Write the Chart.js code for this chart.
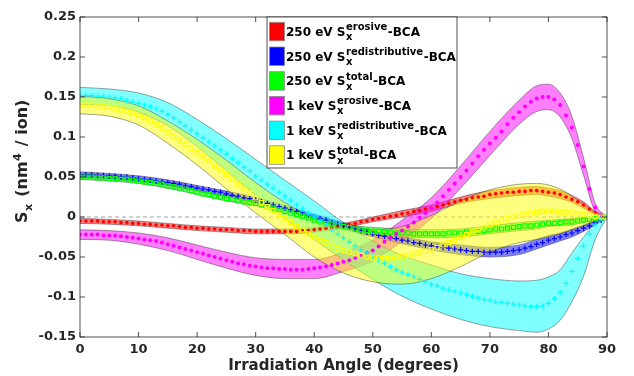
<!DOCTYPE html>
<html>
<head>
<meta charset="utf-8">
<script src="https://cdn.jsdelivr.net/npm/chart.js@4/dist/chart.umd.min.js"></script>
<style>
  html, body { margin: 0; padding: 0; background: #fff; }
</style>
</head>
<body>
<canvas id="sxChart" width="634" height="376"></canvas>
<script>
// irradiation angle (degrees), one marker per degree
const angles = [
  0,1,2,3,4,5,6,7,8,9,10,11,12,13,14,15,16,17,18,19,20,
  21,22,23,24,25,26,27,28,29,30,31,32,33,34,35,36,37,38,39,40,
  41,42,43,44,45,46,47,48,49,50,51,52,53,54,55,56,57,58,59,60,
  61,62,63,64,65,66,67,68,69,70,71,72,73,74,75,76,77,78,79,80,
  81,82,83,84,85,86,87,88,89,90
];

// 250 eV
const red250Erosive = [
  -0.005,-0.005,-0.005,-0.005,-0.006,-0.006,-0.006,-0.007,-0.007,-0.008,-0.008,
  -0.009,-0.009,-0.010,-0.010,-0.011,-0.011,-0.012,-0.013,-0.013,-0.014,
  -0.014,-0.015,-0.015,-0.016,-0.016,-0.016,-0.017,-0.017,-0.017,-0.018,
  -0.018,-0.018,-0.018,-0.018,-0.018,-0.018,-0.018,-0.017,-0.017,-0.016,
  -0.015,-0.014,-0.013,-0.012,-0.011,-0.009,-0.008,-0.006,-0.005,-0.003,
  -0.002,-0.001,0.001,0.002,0.004,0.005,0.007,0.008,0.010,0.011,
  0.013,0.015,0.017,0.019,0.021,0.022,0.024,0.025,0.026,0.028,
  0.029,0.030,0.031,0.031,0.032,0.032,0.033,0.033,0.032,0.031,
  0.030,0.028,0.025,0.022,0.019,0.015,0.010,0.005,0.002,0.000
];
const blue250Redis = [
  0.053,0.053,0.053,0.052,0.052,0.051,0.051,0.050,0.050,0.049,0.048,
  0.047,0.046,0.045,0.044,0.043,0.042,0.041,0.039,0.038,0.036,
  0.035,0.034,0.032,0.031,0.029,0.027,0.026,0.024,0.023,0.021,
  0.019,0.017,0.015,0.013,0.011,0.009,0.007,0.005,0.002,0.000,
  -0.002,-0.004,-0.007,-0.009,-0.011,-0.013,-0.015,-0.017,-0.019,-0.021,
  -0.023,-0.024,-0.026,-0.027,-0.029,-0.030,-0.032,-0.033,-0.035,-0.036,
  -0.037,-0.038,-0.039,-0.040,-0.041,-0.042,-0.043,-0.043,-0.044,-0.044,
  -0.044,-0.044,-0.043,-0.042,-0.041,-0.039,-0.037,-0.034,-0.032,-0.029,
  -0.027,-0.025,-0.022,-0.020,-0.017,-0.014,-0.011,-0.007,-0.004,0.000
];
const green250Total = [
  0.050,0.050,0.050,0.049,0.049,0.048,0.048,0.047,0.047,0.046,0.045,
  0.044,0.043,0.042,0.041,0.039,0.038,0.036,0.035,0.033,0.031,
  0.029,0.028,0.026,0.025,0.023,0.022,0.020,0.019,0.018,0.017,
  0.015,0.013,0.011,0.009,0.007,0.005,0.003,0.001,-0.001,-0.004,
  -0.006,-0.008,-0.009,-0.011,-0.012,-0.013,-0.015,-0.016,-0.017,-0.018,
  -0.018,-0.019,-0.019,-0.020,-0.020,-0.020,-0.021,-0.021,-0.021,-0.021,
  -0.021,-0.021,-0.020,-0.020,-0.020,-0.019,-0.019,-0.018,-0.017,-0.016,
  -0.015,-0.015,-0.014,-0.013,-0.012,-0.011,-0.011,-0.010,-0.009,-0.008,
  -0.008,-0.007,-0.006,-0.006,-0.005,-0.004,-0.003,-0.002,-0.001,0.000
];

// 1 keV
const magenta1kErosive = [
  -0.022,-0.022,-0.022,-0.022,-0.023,-0.023,-0.023,-0.024,-0.025,-0.026,-0.027,
  -0.028,-0.029,-0.030,-0.032,-0.034,-0.036,-0.038,-0.040,-0.042,-0.044,
  -0.046,-0.048,-0.050,-0.052,-0.054,-0.056,-0.058,-0.059,-0.061,-0.062,
  -0.063,-0.064,-0.064,-0.065,-0.065,-0.066,-0.066,-0.066,-0.065,-0.064,
  -0.063,-0.062,-0.060,-0.058,-0.056,-0.054,-0.051,-0.048,-0.045,-0.042,
  -0.037,-0.031,-0.026,-0.021,-0.017,-0.012,-0.007,-0.001,0.005,0.011,
  0.018,0.026,0.034,0.042,0.050,0.058,0.067,0.076,0.084,0.092,
  0.099,0.107,0.116,0.124,0.131,0.138,0.144,0.148,0.150,0.150,
  0.147,0.140,0.127,0.112,0.090,0.063,0.035,0.012,0.002,0.000
];
const cyan1kRedis = [
  0.152,0.152,0.152,0.151,0.151,0.150,0.149,0.148,0.146,0.144,0.142,
  0.140,0.138,0.135,0.132,0.128,0.124,0.119,0.114,0.109,0.104,
  0.099,0.094,0.089,0.084,0.079,0.073,0.068,0.062,0.057,0.051,
  0.046,0.041,0.036,0.031,0.026,0.021,0.015,0.010,0.005,0.000,
  -0.005,-0.010,-0.016,-0.021,-0.026,-0.031,-0.036,-0.041,-0.045,-0.050,
  -0.054,-0.058,-0.062,-0.066,-0.069,-0.072,-0.075,-0.078,-0.081,-0.084,
  -0.086,-0.089,-0.091,-0.093,-0.095,-0.097,-0.099,-0.101,-0.103,-0.104,
  -0.106,-0.107,-0.108,-0.109,-0.110,-0.111,-0.112,-0.112,-0.111,-0.108,
  -0.102,-0.094,-0.083,-0.068,-0.052,-0.036,-0.021,-0.010,-0.002,0.000
];
const yellow1kTotal = [
  0.140,0.140,0.140,0.139,0.138,0.137,0.136,0.134,0.132,0.130,0.127,
  0.124,0.120,0.116,0.111,0.106,0.101,0.096,0.091,0.086,0.081,
  0.076,0.070,0.064,0.059,0.053,0.047,0.041,0.035,0.030,0.024,
  0.018,0.013,0.008,0.003,-0.002,-0.007,-0.012,-0.016,-0.021,-0.025,
  -0.029,-0.032,-0.036,-0.039,-0.042,-0.044,-0.046,-0.048,-0.050,-0.051,
  -0.051,-0.051,-0.051,-0.050,-0.049,-0.048,-0.046,-0.044,-0.043,-0.041,
  -0.038,-0.035,-0.032,-0.029,-0.025,-0.022,-0.019,-0.016,-0.013,-0.010,
  -0.007,-0.005,-0.002,0.000,0.002,0.004,0.005,0.006,0.007,0.007,
  0.007,0.006,0.006,0.005,0.004,0.003,0.002,0.001,0.000,0.000
];

// uncertainty bands (upper / lower edge)
const bandAngles = [0,5,10,15,20,25,30,35,40,45,50,55,60,65,70,75,78,80,82,84,86,88,90];
const redHigh = [-0.002,-0.003,-0.005,-0.008,-0.011,-0.013,-0.015,-0.015,-0.013,-0.008,0.000,0.008,0.015,0.025,0.033,0.037,0.038,0.036,0.033,0.027,0.019,0.007,0];
const redLow = [-0.008,-0.009,-0.011,-0.014,-0.017,-0.019,-0.021,-0.021,-0.019,-0.014,-0.006,0.000,0.007,0.017,0.023,0.027,0.028,0.026,0.023,0.018,0.011,0.003,0];
const blueHigh = [0.0565,0.0545,0.0515,0.0465,0.0395,0.0325,0.0245,0.0145,0.0035,-0.007,-0.017,-0.0245,-0.031,-0.035,-0.038,-0.035,-0.028,-0.023,-0.020,-0.015,-0.010,-0.004,0];
const blueLow = [0.0495,0.0475,0.0445,0.0395,0.0325,0.0255,0.0175,0.0075,-0.0035,-0.015,-0.025,-0.0335,-0.041,-0.047,-0.050,-0.047,-0.040,-0.035,-0.030,-0.025,-0.018,-0.010,0];
const greenHigh = [0.053,0.051,0.048,0.042,0.034,0.026,0.020,0.010,-0.001,-0.009,-0.013,-0.015,-0.016,-0.015,-0.011,-0.007,-0.005,-0.004,-0.003,-0.002,-0.001,0.000,0];
const greenLow = [0.047,0.045,0.042,0.036,0.028,0.020,0.014,0.004,-0.007,-0.015,-0.023,-0.025,-0.026,-0.025,-0.021,-0.017,-0.015,-0.012,-0.011,-0.010,-0.007,-0.004,0];
const magentaHigh = [-0.016,-0.017,-0.020,-0.026,-0.035,-0.044,-0.051,-0.053,-0.053,-0.044,-0.029,-0.004,0.024,0.064,0.107,0.146,0.164,0.166,0.155,0.126,0.074,0.017,0];
const magentaLow = [-0.028,-0.029,-0.034,-0.042,-0.053,-0.064,-0.073,-0.077,-0.077,-0.068,-0.055,-0.030,-0.002,0.036,0.077,0.116,0.132,0.134,0.125,0.098,0.052,0.007,0];
const cyanHigh = [0.162,0.160,0.155,0.143,0.122,0.098,0.072,0.046,0.020,-0.007,-0.030,-0.048,-0.060,-0.071,-0.077,-0.080,-0.079,-0.075,-0.066,-0.045,-0.025,-0.008,0];
const cyanLow = [0.141,0.139,0.131,0.114,0.088,0.058,0.027,-0.002,-0.028,-0.054,-0.078,-0.099,-0.115,-0.128,-0.137,-0.142,-0.144,-0.140,-0.129,-0.106,-0.074,-0.028,0];
const yellowHigh = [0.151,0.148,0.139,0.120,0.097,0.071,0.043,0.018,-0.002,-0.012,-0.016,-0.012,0.002,0.020,0.034,0.041,0.042,0.040,0.035,0.026,0.015,0.005,0];
const yellowLow = [0.129,0.126,0.115,0.092,0.065,0.035,0.005,-0.022,-0.050,-0.070,-0.081,-0.084,-0.077,-0.062,-0.044,-0.032,-0.028,-0.025,-0.021,-0.016,-0.011,-0.005,0];

const xTickLabels = ['0','10','20','30','40','50','60','70','80','90'];
const yTickLabels = ['-0.15','-0.1','-0.05','0','0.05','0.1','0.15','0.2','0.25'];

const legendPrefix = ['250 eV S','250 eV S','250 eV S','1 keV S','1 keV S','1 keV S'];
const legendSup = ['erosive','redistributive','total','erosive','redistributive','total'];
const legendColors = ['#ff0000','#0000ff','#00ff00','#ff00ff','#00ffff','#ffff00'];

const FONT = '"DejaVu Sans", sans-serif';

const toPts = (xs, ys) => xs.map((a, i) => ({ x: a, y: ys[i] }));

const bands = [
  [redHigh, redLow, 'rgba(255,0,0,0.5)'],
  [blueHigh, blueLow, 'rgba(0,0,255,0.5)'],
  [greenHigh, greenLow, 'rgba(0,255,0,0.5)'],
  [magentaHigh, magentaLow, 'rgba(255,0,255,0.5)'],
  [cyanHigh, cyanLow, 'rgba(0,255,255,0.5)'],
  [yellowHigh, yellowLow, 'rgba(255,255,0,0.5)']
];

const markers = [
  { data: red250Erosive, color: '#ff0000', style: 'circle', r: 1.8, fill: true },
  { data: blue250Redis, color: '#0000ff', style: 'cross', r: 2.7, fill: false },
  { data: green250Total, color: '#00ff00', style: 'rect', r: 2.8, fill: false },
  { data: magenta1kErosive, color: '#ff00ff', style: 'circle', r: 2, fill: true },
  { data: cyan1kRedis, color: '#00ffff', style: 'cross', r: 2.7, fill: false },
  { data: yellow1kTotal, color: '#ffff00', style: 'rect', r: 2.8, fill: false }
];

const datasets = [];
bands.forEach((b, k) => {
  const common = {
    pointRadius: 0,
    borderColor: 'rgba(50,50,50,0.75)',
    borderWidth: 0.6,
    cubicInterpolationMode: 'monotone',
    order: 600 - k * 10
  };
  datasets.push(Object.assign({ data: toPts(bandAngles, b[0]), fill: false }, common));
  datasets.push(Object.assign({ data: toPts(bandAngles, b[1]), fill: '-1', backgroundColor: b[2] }, common));
});
markers.forEach((m, k) => {
  datasets.push({
    data: toPts(angles, m.data),
    showLine: false,
    pointStyle: m.style,
    pointRadius: m.r,
    pointBorderWidth: m.fill ? 0 : 1.2,
    pointBorderColor: m.color,
    pointBackgroundColor: m.fill ? m.color : 'rgba(0,0,0,0)',
    order: 10 - k
  });
});

const framePlugin = {
  id: 'frame',
  beforeDatasetsDraw(chart) {
    const { ctx, chartArea: a, scales: { y } } = chart;
    const py = y.getPixelForValue(0);
    ctx.save();
    ctx.strokeStyle = '#8c8c8c';
    ctx.lineWidth = 0.8;
    ctx.setLineDash([4, 3]);
    ctx.beginPath();
    ctx.moveTo(a.left, py);
    ctx.lineTo(a.right, py);
    ctx.stroke();
    ctx.restore();
  },
  afterDraw(chart) {
    const { ctx, chartArea: a, scales: { x, y } } = chart;
    ctx.save();
    // box + inward ticks
    ctx.strokeStyle = '#262626';
    ctx.lineWidth = 0.8;
    ctx.strokeRect(a.left, a.top, a.right - a.left, a.bottom - a.top);
    ctx.beginPath();
    x.ticks.forEach((t, i) => {
      const px = x.getPixelForTick(i);
      ctx.moveTo(px, a.bottom); ctx.lineTo(px, a.bottom - 5);
      ctx.moveTo(px, a.top); ctx.lineTo(px, a.top + 5);
    });
    y.ticks.forEach((t, i) => {
      const py = y.getPixelForTick(i);
      ctx.moveTo(a.left, py); ctx.lineTo(a.left + 5, py);
      ctx.moveTo(a.right, py); ctx.lineTo(a.right - 5, py);
    });
    ctx.stroke();

    // legend
    const bx = 267, by = 17, bw = 190, bh = 151;
    ctx.fillStyle = '#fff';
    ctx.fillRect(bx, by, bw, bh);
    ctx.strokeStyle = '#262626';
    ctx.lineWidth = 0.8;
    ctx.strokeRect(bx, by, bw, bh);
    legendPrefix.forEach((pre, i) => {
      const top = 22.3 + i * 24.7;
      ctx.fillStyle = legendColors[i];
      ctx.fillRect(269.5, top, 15, 18.5);
      ctx.strokeStyle = '#8c8c8c';
      ctx.lineWidth = 0.8;
      ctx.strokeRect(269.5, top, 15, 18.5);
      const base = top + 13.6;
      let tx = 286;
      ctx.fillStyle = '#000';
      ctx.textBaseline = 'alphabetic';
      ctx.textAlign = 'left';
      ctx.font = 'bold 12px ' + FONT;
      ctx.fillText(pre, tx, base);
      tx += ctx.measureText(pre).width;
      ctx.font = 'bold 10px ' + FONT;
      const supW = ctx.measureText(legendSup[i]).width;
      const subW = ctx.measureText('x').width;
      ctx.fillText(legendSup[i], tx + 0.5, base - 5.7);
      ctx.fillText('x', tx + 0.5, base + 4.3);
      tx += Math.max(supW, subW) + 1;
      ctx.font = 'bold 12px ' + FONT;
      ctx.fillText('-BCA', tx, base);
    });

    // y axis title  S_x (nm^4 / ion)
    ctx.translate(27, 223);
    ctx.rotate(-Math.PI / 2);
    ctx.fillStyle = '#262626';
    ctx.textAlign = 'left';
    ctx.textBaseline = 'alphabetic';
    let p = 0;
    ctx.font = 'bold 16px ' + FONT;
    ctx.fillText('S', p, 0); p += ctx.measureText('S').width;
    ctx.font = 'bold 11px ' + FONT;
    ctx.fillText('x', p + 0.5, 5); p += ctx.measureText('x').width + 2;
    ctx.font = 'bold 16px ' + FONT;
    ctx.fillText(' (nm', p, 0); p += ctx.measureText(' (nm').width;
    ctx.font = 'bold 11px ' + FONT;
    ctx.fillText('4', p + 0.5, -6); p += ctx.measureText('4').width + 2;
    ctx.font = 'bold 16px ' + FONT;
    ctx.fillText(' / ion)', p, 0);
    ctx.restore();
  }
};

new Chart(document.getElementById('sxChart'), {
  type: 'line',
  data: { datasets: datasets },
  options: {
    responsive: false,
    animation: false,
    devicePixelRatio: 1,
    layout: { padding: { top: 17, right: 27, left: 0, bottom: 0 } },
    plugins: {
      legend: { display: false },
      tooltip: { enabled: false }
    },
    scales: {
      x: {
        type: 'linear',
        min: 0,
        max: 90,
        grid: { display: false, drawTicks: false },
        border: { display: false },
        ticks: {
          stepSize: 10,
          autoSkip: false,
          maxRotation: 0,
          padding: 5,
          color: '#262626',
          font: { family: FONT, size: 13, weight: 'bold' },
          callback: (v, i) => xTickLabels[i]
        },
        title: {
          display: true,
          text: 'Irradiation Angle (degrees)',
          color: '#262626',
          font: { family: FONT, size: 15, weight: 'bold' },
          padding: { top: 0, bottom: 1 }
        },
        afterFit: (s) => { s.height = 39; }
      },
      y: {
        type: 'linear',
        min: -0.15,
        max: 0.25,
        grid: { display: false, drawTicks: false },
        border: { display: false },
        ticks: {
          stepSize: 0.05,
          autoSkip: false,
          padding: 4,
          color: '#262626',
          font: { family: FONT, size: 13, weight: 'bold' },
          callback: (v, i) => yTickLabels[i]
        },
        afterFit: (s) => { s.width = 80; }
      }
    }
  },
  plugins: [framePlugin]
});
</script>
</body>
</html>
